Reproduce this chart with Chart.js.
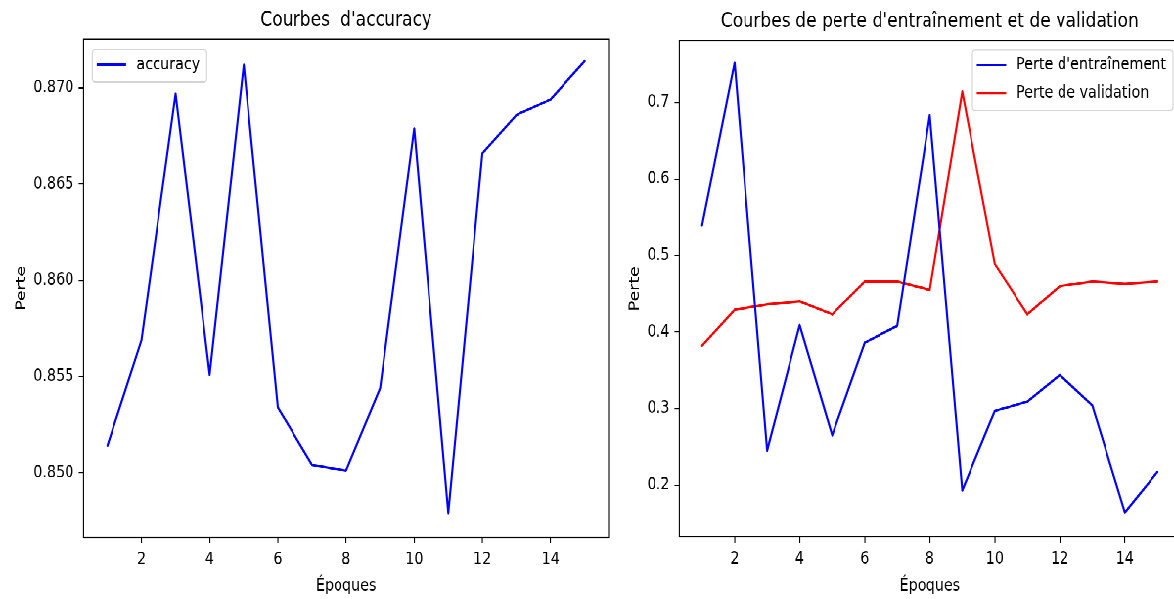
<!DOCTYPE html>
<html>
<head>
<meta charset="utf-8">
<script src="https://cdn.jsdelivr.net/npm/chart.js@4.4.1/dist/chart.umd.min.js"></script>
<style>
  html, body { margin: 0; padding: 0; background: #fff; overflow: hidden; }
  /* la figure d'origine a été étirée verticalement : on dessine en 1200x500 puis on la déforme */
  #fig { position: absolute; left: 0; top: 0; width: 1200px; height: 500px; overflow: hidden;
         transform: scale(0.978333, 1.198); transform-origin: 0 0; }
  #fig canvas { position: absolute; top: 0; }
</style>
</head>
<body>
<div id="fig">
  <canvas id="accChart" width="640" height="500" style="left:0px"></canvas>
  <canvas id="lossChart" width="600" height="500" style="left:630px"></canvas>
</div>
<script>
// données
const epochs = [1, 2, 3, 4, 5, 6, 7, 8, 9, 10, 11, 12, 13, 14, 15];
const accuracy = [0.8514, 0.8569, 0.8697, 0.8551, 0.8712, 0.8534, 0.8504, 0.8501,
                  0.8544, 0.8679, 0.8479, 0.8666, 0.8686, 0.8694, 0.8714];
const trainLoss = [0.539, 0.752, 0.245, 0.409, 0.265, 0.386, 0.408, 0.683,
                   0.193, 0.297, 0.309, 0.344, 0.304, 0.164, 0.217];
const valLoss = [0.382, 0.429, 0.436, 0.440, 0.423, 0.466, 0.466, 0.455,
                 0.714, 0.489, 0.423, 0.460, 0.466, 0.463, 0.466];
const xTickStep = 2;

const textSize = 14.4;
const titleSize = 17.2;

Chart.defaults.font.family = '"DejaVu Sans", sans-serif';
Chart.defaults.color = '#000';

// cadre, titre et légende à la manière de matplotlib
const frameAndLegend = {
  id: 'frameAndLegend',
  afterDraw(chart, args, opts) {
    const ctx = chart.ctx;
    const ca = chart.chartArea;
    ctx.save();
    ctx.strokeStyle = '#000';
    ctx.lineWidth = 1.1;
    ctx.strokeRect(ca.left, ca.top, ca.right - ca.left, ca.bottom - ca.top);

    ctx.fillStyle = '#000';
    ctx.font = titleSize + 'px "DejaVu Sans"';
    ctx.textAlign = 'center';
    ctx.textBaseline = 'alphabetic';
    ctx.fillText(opts.title, (ca.left + ca.right) / 2, ca.top - 11.5);

    ctx.font = textSize + 'px "DejaVu Sans"';
    const sets = chart.data.datasets;
    const textW = Math.max(...sets.map(d => ctx.measureText(d.label).width));
    const w = 45 + textW + 7;
    const h = 10.6 + sets.length * 16.7 + (sets.length - 1) * 6.4;
    const x = opts.legendCorner === 'left' ? ca.left + 9 : ca.right - 7.3 - w;
    const y = ca.top + opts.legendTop;
    ctx.beginPath();
    ctx.roundRect(x, y, w, h, 2.8);
    ctx.fillStyle = 'rgba(255,255,255,0.8)';
    ctx.fill();
    ctx.strokeStyle = '#d4d4d4';
    ctx.lineWidth = 1.1;
    ctx.stroke();
    sets.forEach(function (d, i) {
      const cy = y + 12.8 + i * 23.1;
      ctx.strokeStyle = d.borderColor;
      ctx.lineWidth = 2.1;
      ctx.beginPath();
      ctx.moveTo(x + 4.5, cy);
      ctx.lineTo(x + 34.5, cy);
      ctx.stroke();
      ctx.fillStyle = '#000';
      ctx.textAlign = 'left';
      ctx.textBaseline = 'middle';
      ctx.fillText(d.label, x + 45, cy);
    });
    ctx.restore();
  }
};

function toPoints(values) {
  return values.map((v, i) => ({ x: epochs[i], y: v }));
}

function makeChart(id, datasets, cfg) {
  const tickFont = { size: textSize };
  return new Chart(document.getElementById(id), {
    type: 'line',
    data: {
      datasets: datasets.map(d => ({
        label: d.label,
        data: toPoints(d.values),
        borderColor: d.color,
        borderWidth: 2.1,
        borderJoinStyle: 'round',
        borderCapStyle: 'round',
        pointRadius: 0,
        tension: 0,
        fill: false
      }))
    },
    options: {
      responsive: false,
      animation: false,
      devicePixelRatio: 2,
      layout: { padding: { left: 0, top: cfg.top, right: cfg.padRight, bottom: 0 } },
      plugins: {
        legend: { display: false },
        tooltip: { enabled: false },
        frameAndLegend: { title: cfg.title, legendCorner: cfg.legendCorner, legendTop: cfg.legendTop }
      },
      scales: {
        x: {
          type: 'linear',
          min: 0.3,
          max: 15.7,
          ticks: { stepSize: xTickStep, includeBounds: false, padding: 5, font: tickFont, maxRotation: 0, autoSkip: false },
          grid: { drawOnChartArea: false, drawTicks: true, tickLength: 5, color: '#000', lineWidth: 1.1 },
          border: { display: false },
          title: { display: true, text: 'Époques', font: { size: textSize }, padding: { top: 0, bottom: 2.0 } },
          afterFit: function (scale) { scale.height = 500 - cfg.bottom; }
        },
        y: {
          min: cfg.yMin,
          max: cfg.yMax,
          ticks: {
            stepSize: cfg.yStep, includeBounds: false, padding: 5, font: tickFont,
            callback: v => v.toFixed(cfg.decimals)
          },
          grid: { drawOnChartArea: false, drawTicks: true, tickLength: 5, color: '#000', lineWidth: 1.1 },
          border: { display: false },
          title: { display: true, text: 'Perte', font: { size: textSize }, padding: { top: cfg.yTitlePad, bottom: 0 } },
          afterFit: function (scale) { scale.width = cfg.left; }
        }
      }
    },
    plugins: [frameAndLegend]
  });
}

makeChart('accChart', [
  { label: 'accuracy', values: accuracy, color: '#0000ff' }
], {
  title: "Courbes  d'accuracy",
  left: 85.4, padRight: 18, top: 32.8, bottom: 448.5,
  yMin: 0.84664, yMax: 0.87253, yStep: 0.005, decimals: 3,
  yTitlePad: 13.5, legendCorner: 'left', legendTop: 8.5
});

makeChart('lossChart', [
  { label: "Perte d'entraînement", values: trainLoss, color: '#0000ff' },
  { label: 'Perte de validation', values: valLoss, color: '#ff0000' }
], {
  title: "Courbes de perte d'entraînement et de validation",
  left: 64.4, padRight: 23.7, top: 34.0, bottom: 448.0,
  yMin: 0.1325, yMax: 0.7805, yStep: 0.1, decimals: 1,
  yTitlePad: 10.7, legendCorner: 'right', legendTop: 7.7
});
</script>
</body>
</html>
